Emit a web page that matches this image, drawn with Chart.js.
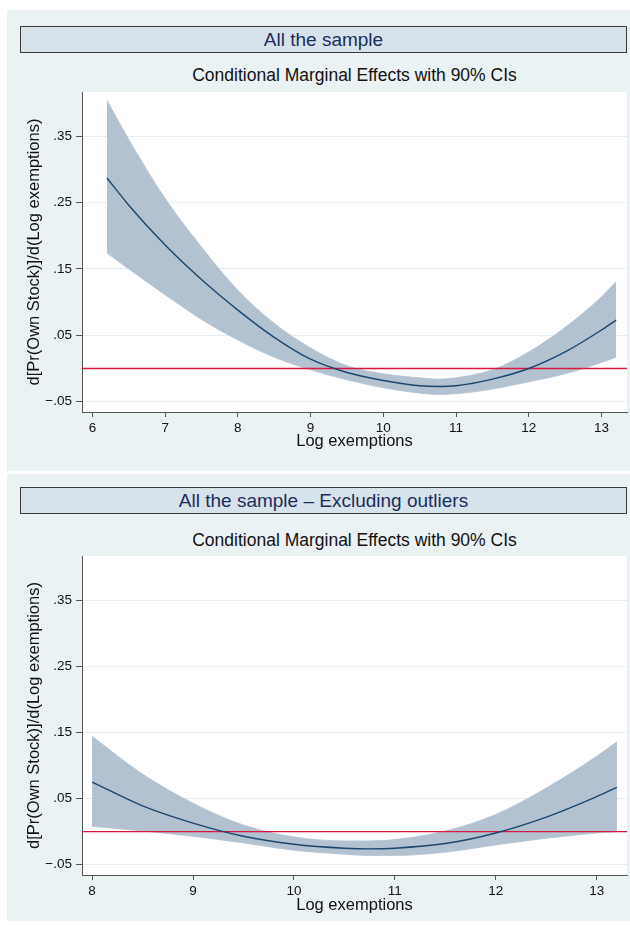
<!DOCTYPE html>
<html>
<head>
<meta charset="utf-8">
<script src="https://cdn.jsdelivr.net/npm/chart.js@4.4.1/dist/chart.umd.min.js"></script>
<style>
  html, body { margin: 0; padding: 0; background: #ffffff; width: 630px; height: 929px; overflow: hidden; }
  body { font-family: "Liberation Sans", Arial, sans-serif; position: relative; }
  .panel { position: absolute; left: 7px; width: 623px; background: #eaf2f3; }
  .band { position: absolute; left: 13px; width: 607px; height: 27px; box-sizing: border-box;
          background: #d7e3ea; border: 1px solid #3a3a3a; color: #1c2d5c; font-size: 19px;
          text-align: center; line-height: 25px; }
  .sub { position: absolute; left: 75px; width: 545px; text-align: center; font-size: 17.5px; color: #111; }
  canvas { position: absolute; left: 0; top: 0; }
</style>
</head>
<body>

<div class="panel" id="p1" style="top:10px;height:461px;">
  <div class="band" style="top:16px;">All the sample</div>
  <div class="sub" style="top:55px;">Conditional Marginal Effects with 90% CIs</div>
  <canvas id="c1" width="623" height="461"></canvas>
</div>

<div class="panel" id="p2" style="top:474px;height:447px;">
  <div class="band" style="top:13px;">All the sample – Excluding outliers</div>
  <div class="sub" style="top:56px;">Conditional Marginal Effects with 90% CIs</div>
  <canvas id="c2" width="623" height="447"></canvas>
</div>

<script>
// Full sample: log exemptions grid, marginal effect and 90% CI bounds
const xAll    = [6.2, 6.5, 7.0, 7.5, 8.0, 8.5, 9.0, 9.5, 10.0, 10.5, 10.75, 11.0, 11.5, 12.0, 12.5, 13.0, 13.2];
const meanAll = [0.287, 0.246, 0.186, 0.134, 0.088, 0.047, 0.014, -0.006, -0.018, -0.026, -0.027, -0.026, -0.016, 0.000, 0.025, 0.058, 0.073];
const hiAll   = [0.404, 0.345, 0.256, 0.183, 0.118, 0.068, 0.031, 0.004, -0.008, -0.014, -0.016, -0.014, -0.002, 0.025, 0.062, 0.108, 0.131];
const loAll   = [0.174, 0.150, 0.111, 0.074, 0.043, 0.017, -0.002, -0.017, -0.029, -0.037, -0.039, -0.038, -0.031, -0.020, -0.008, 0.009, 0.017];

// Sample without outliers
const xTrim    = [8.0, 8.5, 9.0, 9.5, 10.0, 10.5, 10.75, 11.0, 11.5, 12.0, 12.5, 13.0, 13.2];
const meanTrim = [0.075, 0.039, 0.013, -0.007, -0.019, -0.025, -0.026, -0.025, -0.018, -0.002, 0.022, 0.053, 0.067];
const hiTrim   = [0.144, 0.087, 0.043, 0.010, -0.008, -0.014, -0.014, -0.012, 0.001, 0.026, 0.066, 0.114, 0.136];
const loTrim   = [0.008, 0.001, -0.007, -0.017, -0.028, -0.034, -0.036, -0.036, -0.031, -0.020, -0.010, -0.002, 0.000];

// Axis ticks and the reference line
const yTickValues   = [-0.05, 0.05, 0.15, 0.25, 0.35];
const xTicksAll     = [6, 7, 8, 9, 10, 11, 12, 13];
const xTicksTrim    = [8, 9, 10, 11, 12, 13];
const xRangeAll     = [5.857, 13.35];
const xRangeTrim    = [7.90, 13.30];
const yRange        = [-0.0655, 0.4165];
const zeroLine      = 0;

const FONT = '"Liberation Sans", Arial, sans-serif';
const NAVY = '#1a476f';
const BAND = 'rgba(179,194,208,1)';

function fmtStata(v) {
  const r = Math.round(v * 100) / 100;
  const s = Math.abs(r).toFixed(2).replace(/^0/, '');
  return (r < 0 ? '\u2212' : '') + s;
}

const plotBg = {
  id: 'plotBg',
  beforeDraw(chart) {
    const { ctx, chartArea: a } = chart;
    ctx.save();
    ctx.fillStyle = '#ffffff';
    ctx.fillRect(a.left, a.top, a.right - a.left, a.bottom - a.top);
    ctx.restore();
  }
};

function pts(xs, ys) { return xs.map((x, i) => ({ x: x, y: ys[i] })); }

function build(id, xs, mean, hi, lo, xRange, xTicks, xAxisH, xTitlePadBottom) {
  const ctx = document.getElementById(id);
  return new Chart(ctx, {
    type: 'line',
    data: {
      datasets: [
        { data: pts(xs, mean), borderColor: NAVY, borderWidth: 1.4, pointRadius: 0, fill: false,
          cubicInterpolationMode: 'monotone' },
        { data: [{ x: xRange[0], y: zeroLine }, { x: xRange[1], y: zeroLine }],
          borderColor: '#d6173f', borderWidth: 1.3, pointRadius: 0, fill: false },
        { data: pts(xs, hi), borderColor: BAND, borderWidth: 0.8, pointRadius: 0, fill: '+1',
          backgroundColor: BAND, cubicInterpolationMode: 'monotone' },
        { data: pts(xs, lo), borderColor: BAND, borderWidth: 0.8, pointRadius: 0, fill: false,
          cubicInterpolationMode: 'monotone' }
      ]
    },
    options: {
      responsive: false,
      animation: false,
      events: [],
      layout: { padding: { top: 82, right: 3, bottom: 0, left: 0 } },
      plugins: { legend: { display: false }, tooltip: { enabled: false }, title: { display: false } },
      scales: {
        x: {
          type: 'linear', min: xRange[0], max: xRange[1],
          afterBuildTicks: s => { s.ticks = xTicks.map(v => ({ value: v })); },
          afterFit: s => { s.height = xAxisH; },
          ticks: { autoSkip: false, maxRotation: 0, padding: 3, color: '#111',
                   font: { family: FONT, size: 13.5 }, callback: v => String(v) },
          grid: { drawOnChartArea: false, tickLength: 5, color: '#555', tickWidth: 1 },
          border: { color: '#555', width: 1 },
          title: { display: true, text: 'Log exemptions', color: '#111',
                   font: { family: FONT, size: 16.5 }, padding: { top: 0, bottom: xTitlePadBottom } }
        },
        y: {
          min: yRange[0], max: yRange[1],
          afterBuildTicks: s => { s.ticks = yTickValues.map(v => ({ value: v })); },
          afterFit: s => { s.width = 75; },
          ticks: { autoSkip: false, padding: 4, color: '#111',
                   font: { family: FONT, size: 13.5 }, callback: v => fmtStata(v) },
          grid: { color: '#e6eef1', lineWidth: 1, tickLength: 6, tickColor: '#555' },
          border: { color: '#555', width: 1 },
          title: { display: true, text: 'd[Pr(Own Stock)]/d(Log exemptions)', color: '#111',
                   font: { family: FONT, size: 16.5 }, padding: { top: 18, bottom: 0 } }
        }
      }
    },
    plugins: [plotBg]
  });
}

build('c1', xAll, meanAll, hiAll, loAll, xRangeAll, xTicksAll, 59, 20);
build('c2', xTrim, meanTrim, hiTrim, loTrim, xRangeTrim, xTicksTrim, 46, 6);
</script>
</body>
</html>
